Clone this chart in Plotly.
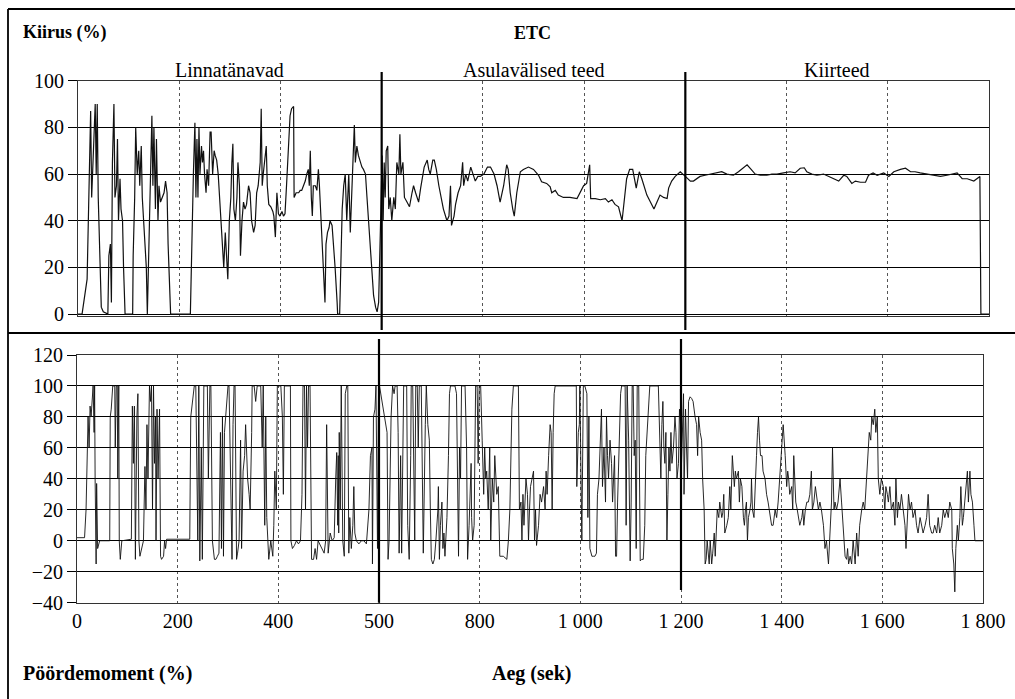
import plotly.graph_objects as go

# ---------------- data ----------------
speed_t = [0,8,18,20,23,25,27,30,32,34,36,38,40,43,46,50,59,61,64,66,68,71,73,76,78,80,83,85,88,90,93,108,109,112,114,117,120,122,125,127,130,133,135,137,139,141,143,146,148,150,153,155,158,160,163,166,170,173,176,178,181,183,222,224,226,228,231,233,235,237,239,241,244,246,248,250,253,255,258,261,263,266,269,271,274,277,281,283,286,288,291,294,296,299,302,304,306,308,311,314,316,319,321,324,327,330,333,337,340,343,347,350,353,356,360,362,364,366,370,372,374,377,381,385,387,390,393,396,399,403,406,409,412,416,419,422,426,427,431,436,439,442,446,449,452,455,457,459,461,463,465,469,472,475,477,480,483,485,488,490,493,496,498,502,505,508,512,513,517,519,522,525,528,531,535,538,541,543,546,548,551,554,558,561,564,568,571,574,578,581,584,588,591,594,597,599,601,603,605,607,609,612,614,617,620,624,627,630,634,636,638,642,645,650,655,660,663,667,670,673,677,680,684,690,693,696,701,704,708,713,717,722,729,733,736,738,743,746,751,756,760,762,766,770,776,780,785,790,795,802,809,815,822,828,834,841,847,850,854,859,862,867,874,880,890,900,910,916,926,933,936,943,949,959,972,986,992,999,1005,1011,1013,1022,1032,1042,1048,1055,1061,1068,1075,1079,1084,1090,1096,1103,1109,1114,1119,1124,1131,1138,1144,1150,1157,1164,1167,1173,1180,1190,1200,1210,1216,1223,1229,1239,1249,1262,1272,1282,1295,1305,1315,1322,1330,1338,1348,1361,1371,1381,1394,1407,1417,1427,1435,1440,1450,1460,1473,1483,1493,1503,1513,1519,1529,1536,1546,1556,1562,1571,1579,1592,1602,1612,1625,1635,1645,1654,1664,1677,1691,1704,1717,1730,1737,1747,1757,1770,1782,1784,1800]
speed_v = [0,0,15,40,70,87,50,65,80,90,60,90,50,20,3,1,0,25,30,5,65,90,50,55,75,40,58,45,40,20,0,0,25,50,80,60,70,55,72,50,40,30,20,0,20,45,65,85,55,80,45,75,40,55,48,50,52,57,52,30,10,0,0,15,40,60,82,50,75,50,80,60,72,65,70,60,52,62,55,78,78,60,70,68,66,60,45,40,30,20,35,25,15,40,50,65,73,45,40,50,65,55,25,40,48,45,47,55,52,40,35,38,52,55,65,88,55,60,70,72,55,47,46,44,42,33,52,43,42,44,42,43,55,70,85,88,89,50,52,52,53,53,55,57,60,62,55,70,50,42,55,55,53,62,55,40,30,20,5,30,35,37,40,38,30,20,5,0,0,20,45,55,60,40,60,35,55,60,81,65,72,68,65,63,62,60,50,40,28,15,8,3,1,5,30,55,68,40,65,50,70,72,45,50,40,50,45,65,60,77,60,65,50,48,46,52,55,52,50,48,54,58,63,66,62,60,66,66,62,55,50,45,40,42,55,38,42,47,52,55,65,55,60,57,63,60,57,59,59,60,63,63,60,55,48,55,64,62,52,45,42,52,61,62,63,62,59.5,56.7,56,54.5,52,53,51,50,50,49.5,52,55,56,64,49.5,49.5,49,49.5,48,49,47,46,40,49.5,58,62,62,54,61,58,54.5,51,48,45,48,51,50,49.5,54,57,59,61,59,57,57,58,59,59.5,60,60.5,61,60,59.5,61,63,64,62,60,59.5,59.5,60,60,60.5,61,60.5,62.5,62.7,61,60,59.5,60,59,58,57,59.5,59,56,57,56.5,56.5,59.5,60.5,59.5,60.5,59,61,62,62.5,61,61,60.5,60,59.5,59,59.5,60,60.5,58,58,57,59,0,0]

torque_t = [0,15,18,20,22,24,26,28,32,34,35,36,38,39,41,45,65,66,68,71,75,76,78,80,81,83,84,86,89,108,110,112,114,116,119,121,123,125,129,132,135,137,139,141,144,146,148,150,152,154,156,157,159,161,164,166,168,172,174,176,178,224,
            226,230,233,236,240,242,244,247,249,252,256,259,261,264,266,269,273,276,279,282,285,287,289,291,293,296,298,300,302,306,308,310,312,314,317,319,322,325,327,330,333,335,337,339,342,344,347,348,352,355,358,362,365,368,370,373,375,377,379,381,385,387,389,391,393,396,398,401,405,408,410,412,414,421,424,425,
            428,432,436,440,444,447,449,452,454,456,458,460,463,466,470,473,476,479,483,487,491,494,496,499,503,507,511,514,516,518,519,520,521,523,525,528,531,533,536,538,540,542,545,548,550,552,555,560,565,570,575,580,583,586,587,589,592,594,597,599,601,
            616,618,620,622,624,627,630,632,636,638,640,643,645,649,652,655,657,660,663,664,667,671,673,676,678,680,684,686,688,692,694,697,700,702,704,707,710,713,717,718,720,722,725,727,729,731,735,738,740,742,744,748,751,754,756,758,760,762,764,768,771,774,776,779,781,783,784,786,789,792,795,797,799,802,805,808,810,812,814,817,820,822,825,828,830,834,837,
            840,847,854,857,860,864,867,874,877,879,882,884,886,888,892,895,897,899,901,904,907,909,911,913,915,917,920,923,927,930,932,934,937,940,942,944,946,948,950,953,992,993,996,998,999,1003,1006,1009,1013,1015,1017,1019,1023,1026,1029,1032,1034,1037,1039,1042,1044,1047,1050,1052,1054,1056,1059,1062,1064,1068,1070,1072,1074,1077,1080,1082,1089,1091,1093,1096,1099,1101,1103,1105,1107,1109,1111,1113,1116,1119,1122,1125,1128,1130,1133,1136,1138,1155,1157,1160,1162,1164,1166,1168,1170,1172,1174,1176,1178,1180,1182,1185,1188,1190,1192,1195,1197,1199,1201,1203,1205,1206,1209,1211,1213,1215,1218,1221,1224,1228,1231,1233,1235,1238,1241,1243,1246,1248,1250,1252,1254,1256,1258,1261,1263,1266,1268,1271,1272,1275,1277,1281,1283,1285,1287,1291,1294,1297,1299,1302,1304,1306,1308,1310,1314,1316,1318,1321,1324,1326,1328,1330,1332,1334,1337,1339,1340,1342,1345,1348,1350,1352,1354,1356,1358,1361,1363,1367,1370,1373,1377,1380,1383,1387,1390,1393,1397,1399,1401,1403,1405,1407,1410,1412,1414,1416,1420,1422,1424,1426,1428,1431,1433,1436,1440,1442,1444,1447,1450,1453,1456,1459,1461,1464,1467,1469,1473,1476,1479,1483,1486,1489,1493,1496,1499,1501,1504,1506,1509,1512,1516,1519,1522,1526,1529,1531,1533,1536,1539,1542,1546,1549,1552,1555,1559,1562,1565,1569,1572,1574,1577,1579,1582,1585,1587,1590,1592,1595,1598,1602,1605,1607,1610,1612,1615,1618,1622,1625,1627,1630,1632,1635,1638,1642,1645,1647,1650,1652,1655,1658,1661,1665,1668,1671,1675,1678,1681,1685,1688,1691,1694,1698,1701,1704,1708,1711,1714,1718,1721,1724,1728,1731,1734,1738,1739,1742,1744,1746,1749,1751,1754,1756,1759,1761,1764,1767,1769,1771,1774,1776,1779,1782,1784,1800]
torque_v = [2,2,20,55,80,60,87,80,100,70,100,40,-15,37,-5,0,0,80,85,100,100,60,100,100,40,100,0,-12,0,1,87,50,87,-12,80,95,0,-10,-5,0,48,20,75,40,100,90,100,20,100,50,80,0,85,40,85,-10,-12,-10,0,-5,1,1,
            80,90,100,100,0,100,-13,60,-12,100,100,100,40,100,100,0,-12,-12,-10,-8,70,-5,80,-10,70,85,90,100,100,30,-12,75,100,100,-12,-8,0,65,-5,45,55,75,50,40,30,20,70,100,100,90,100,100,100,60,100,10,80,15,-5,-12,0,-5,-10,10,45,20,100,100,100,80,30,100,100,100,100,0,
            -5,-3,0,-2,0,30,100,100,20,100,60,100,100,-12,-12,-5,-12,0,-3,-5,-8,0,75,-8,5,0,2,40,57,10,55,5,70,20,100,0,-10,95,100,100,-8,15,-5,10,35,5,0,-2,0,0,-2,20,55,60,-15,80,85,100,-5,95,100,
            70,-12,0,50,80,100,95,100,100,70,-8,55,-8,100,100,100,10,-12,55,100,100,0,100,100,60,100,100,60,-8,75,100,75,65,20,-12,-15,-12,0,20,35,-12,10,25,-5,5,-10,15,55,95,100,100,100,100,95,50,-10,60,40,100,100,100,60,-12,10,40,50,15,0,10,100,100,50,100,100,65,30,60,40,45,20,60,0,40,25,55,30,35,
            -10,-10,-12,0,20,85,100,100,100,20,25,0,30,10,40,30,0,20,35,40,45,0,20,-3,5,10,30,25,35,20,45,30,55,75,70,20,70,95,100,100,100,35,70,75,100,0,100,100,95,15,80,-5,-10,-10,-10,-8,30,40,65,85,35,60,25,80,55,40,65,50,25,55,-10,-10,25,55,95,100,100,10,100,65,-13,25,100,100,55,65,-5,100,100,-13,-12,-12,10,55,75,95,100,100,80,40,75,90,60,50,70,0,30,60,45,70,50,60,80,70,40,50,85,75,50,80,95,30,85,60,40,90,93,92,90,80,75,55,80,70,65,40,20,-15,-12,0,-8,-15,0,-15,-8,5,-10,10,20,15,25,15,18,30,5,10,15,35,20,55,45,35,45,40,45,25,40,35,15,10,20,25,0,15,20,25,40,20,15,45,55,70,80,65,55,55,45,40,30,25,15,10,10,20,15,25,45,60,65,75,60,55,35,45,40,30,35,20,55,35,25,20,15,10,15,20,10,20,25,25,30,45,20,25,35,30,20,25,20,10,-5,0,-15,5,25,60,20,25,20,25,40,25,10,-10,-12,-5,-15,-10,-15,0,-15,5,-10,10,20,25,20,40,60,70,65,80,75,85,70,80,40,30,40,35,20,35,30,25,35,20,25,10,40,15,25,20,30,20,10,-5,15,30,20,25,15,20,10,5,15,10,5,10,15,30,10,5,5,10,5,15,5,10,20,15,20,15,25,20,-5,-15,-33,-5,10,0,15,35,10,15,25,35,45,25,45,30,25,10,0,0]

x_tickvals = [0, 200, 400, 600, 800, 1000, 1200, 1400, 1600, 1800]
x_ticktext = ["0", "200", "400", "500", "800", "1 000", "1 200", "1 400", "1 600", "1 800"]
section_x = [300, 900, 1500]
section_names = ["Linnatänavad", "Asulavälised teed", "Kiirteed"]
boundaries = [600, 1200]

W, H = 1015, 699
SERIF = "Liberation Serif, Times New Roman, serif"

fig = go.Figure()
fig.add_trace(go.Scatter(x=speed_t, y=speed_v, mode="lines",
                         line=dict(color="#111", width=1.2), xaxis="x", yaxis="y",
                         showlegend=False, hoverinfo="skip"))
fig.add_trace(go.Scatter(x=torque_t, y=torque_v, mode="lines",
                         line=dict(color="#111", width=0.9), xaxis="x2", yaxis="y2",
                         showlegend=False, hoverinfo="skip"))

def px(v):
    return v / W

def py(v):
    return 1 - v / H

x1_dom = [px(78), px(989)]
x2_dom = [px(77), px(983)]
y1_dom = [py(316), py(80.7)]
y2_dom = [py(602.7), py(355)]

common_x = dict(range=[0, 1800], showgrid=True, gridcolor="#555", griddash="dot",
                gridwidth=1, zeroline=False, showline=True, linecolor="#333",
                linewidth=1, mirror=True, tickvals=x_tickvals, automargin=False)
common_y = dict(showgrid=True, gridcolor="#000", gridwidth=1.4, zeroline=False,
                showline=True, linecolor="#333", linewidth=1, mirror=True,
                ticks="outside", ticklen=9, tickcolor="#000", automargin=False,
                tickfont=dict(family=SERIF, size=20, color="#000"))

fig.update_layout(
    width=W, height=H, margin=dict(l=0, r=0, t=0, b=0, pad=0, autoexpand=False),
    paper_bgcolor="white", plot_bgcolor="white",
    xaxis=dict(domain=x1_dom, showticklabels=False, anchor="y", **common_x),
    yaxis=dict(domain=y1_dom, range=[-0.8, 100], tickvals=[0, 20, 40, 60, 80, 100],
               anchor="x", **common_y),
    xaxis2=dict(domain=x2_dom, anchor="y2", ticktext=x_ticktext, ticks="",
                tickfont=dict(family=SERIF, size=20, color="#000"), **common_x),
    yaxis2=dict(domain=y2_dom, range=[-40, 120], tickvals=[-40, -20, 0, 20, 40, 60, 80, 100, 120],
                anchor="x2", **common_y),
)

# boundary markers
for b in boundaries:
    fig.add_shape(type="line", xref="x", yref="paper", x0=b, x1=b, y0=py(330), y1=py(72),
                  line=dict(color="#000", width=2.2))
    fig.add_shape(type="line", xref="x2", yref="paper", x0=b, x1=b,
                  y0=py(602.7 if b == 600 else 590), y1=py(339),
                  line=dict(color="#000", width=2.2))

# outer frame
fig.add_shape(type="line", xref="paper", yref="paper", x0=px(8), x1=1, y0=py(9), y1=py(9),
              line=dict(color="#000", width=1.8))
fig.add_shape(type="line", xref="paper", yref="paper", x0=px(8), x1=px(8), y0=0, y1=py(9),
              line=dict(color="#000", width=1.8))
fig.add_shape(type="line", xref="paper", yref="paper", x0=px(8), x1=1, y0=py(333), y1=py(333),
              line=dict(color="#000", width=1.8))

# texts
for xs, name in zip(section_x, section_names):
    fig.add_annotation(x=xs, y=py(70), xref="x", yref="paper", text=name, showarrow=False,
                       font=dict(family=SERIF, size=20, color="#000"),
                       xanchor="center", yanchor="middle")

fig.add_annotation(x=px(21), y=py(33), xref="paper", yref="paper", text="<b>Kiirus (%)</b>",
                   showarrow=False, xanchor="left", yanchor="middle",
                   font=dict(family=SERIF, size=18, color="#000"))
fig.add_annotation(x=px(532), y=py(33), xref="paper", yref="paper", text="<b>ETC</b>",
                   showarrow=False, xanchor="center", yanchor="middle",
                   font=dict(family=SERIF, size=18, color="#000"))
fig.add_annotation(x=px(21), y=py(673), xref="paper", yref="paper", text="<b>Pöördemoment (%)</b>",
                   showarrow=False, xanchor="left", yanchor="middle",
                   font=dict(family=SERIF, size=20, color="#000"))
fig.add_annotation(x=px(531), y=py(673), xref="paper", yref="paper", text="<b>Aeg (sek)</b>",
                   showarrow=False, xanchor="center", yanchor="middle",
                   font=dict(family=SERIF, size=20, color="#000"))

fig.write_html("out.html", config={"displayModeBar": False})
with open("out.html", "r", encoding="utf-8") as f:
    html = f.read()
html = html.replace("<head>", "<head><style>html,body{margin:0;padding:0;overflow:hidden;}</style>", 1)
with open("out.html", "w", encoding="utf-8") as f:
    f.write(html)
